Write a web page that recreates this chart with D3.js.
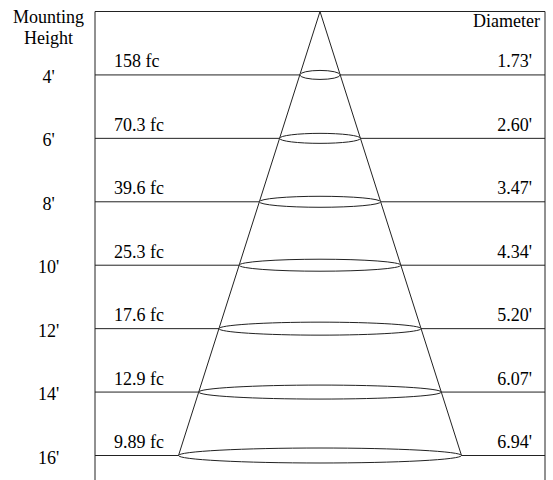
<!DOCTYPE html>
<html><head><meta charset="utf-8">
<script src="https://cdn.jsdelivr.net/npm/d3@7"></script>
<style>body{margin:0;background:#fff}svg{display:block}text{font-family:"Liberation Serif","Times New Roman",serif;fill:#000}</style>
</head><body><svg id="c" width="553" height="480"></svg>
<script>
const heights = [4, 6, 8, 10, 12, 14, 16];
const heightLabels = ["4'", "6'", "8'", "10'", "12'", "14'", "16'"];
const footcandles = ["158 fc", "70.3 fc", "39.6 fc", "25.3 fc", "17.6 fc", "12.9 fc", "9.89 fc"];
const diameters = ["1.73'", "2.60'", "3.47'", "4.34'", "5.20'", "6.07'", "6.94'"];

const svg = d3.select("#c");
const left = 95, right = 545, cx = 320, bottom = 480;
const y = d3.scaleLinear().domain([2, 16]).range([11.5, 455.5]);
const w = d3.scaleLinear().domain([2, 16]).range([0, 141.5]);
const ry = d3.scaleLinear().domain([4, 16]).range([4.5, 7.5]);
const fs = 18;
const stroke = "#222";

// frame
svg.append("line").attr("x1", left).attr("x2", right).attr("y1", y(2)).attr("y2", y(2)).attr("stroke", stroke);
svg.append("line").attr("x1", left).attr("x2", left).attr("y1", y(2)).attr("y2", bottom).attr("stroke", stroke);
svg.append("line").attr("x1", right).attr("x2", right).attr("y1", y(2)).attr("y2", bottom).attr("stroke", stroke);

// horizontal lines
svg.selectAll("line.h").data(heights).join("line").attr("class", "h")
  .attr("x1", left).attr("x2", right).attr("y1", d => y(d)).attr("y2", d => y(d)).attr("stroke", stroke);

// cone sides
const hMax = d3.max(heights);
[-1, 1].forEach(s => {
  svg.append("line").attr("x1", cx).attr("y1", y(2)).attr("x2", cx + s * w(hMax)).attr("y2", y(hMax))
    .attr("stroke", stroke);
});

// ellipses
svg.selectAll("ellipse").data(heights).join("ellipse")
  .attr("cx", cx).attr("cy", d => y(d)).attr("rx", d => w(d)).attr("ry", d => ry(d))
  .attr("fill", "#fff").attr("stroke", stroke);

// texts
svg.append("text").attr("x", 48.5).attr("y", 23).attr("text-anchor", "middle").attr("font-size", fs).text("Mounting");
svg.append("text").attr("x", 48.5).attr("y", 44).attr("text-anchor", "middle").attr("font-size", fs).text("Height");
svg.append("text").attr("x", 540).attr("y", 27).attr("text-anchor", "end").attr("font-size", fs).text("Diameter");

svg.selectAll("text.hl").data(heights).join("text").attr("class", "hl")
  .attr("x", 48.5).attr("y", d => y(d) + 8).attr("text-anchor", "middle").attr("font-size", fs)
  .text((d, i) => heightLabels[i]);
svg.selectAll("text.fc").data(heights).join("text").attr("class", "fc")
  .attr("x", 114).attr("y", d => y(d) - 7.5).attr("font-size", fs)
  .text((d, i) => footcandles[i]);
svg.selectAll("text.dm").data(heights).join("text").attr("class", "dm")
  .attr("x", 532).attr("y", d => y(d) - 7.5).attr("text-anchor", "end").attr("font-size", fs)
  .text((d, i) => diameters[i]);
</script></body></html>
